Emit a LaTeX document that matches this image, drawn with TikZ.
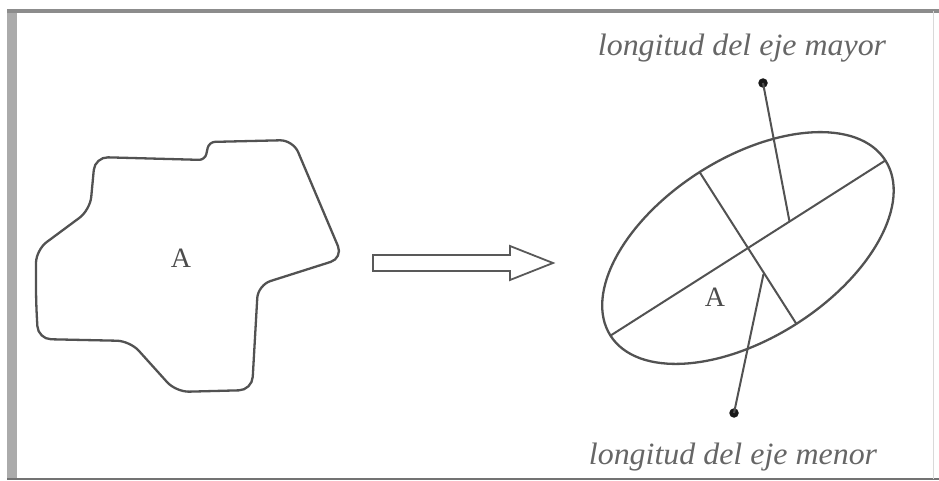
\documentclass[tikz,border=0pt]{standalone}
\usepackage{fontspec}
\setmainfont{Liberation Serif}
\begin{document}
\begin{tikzpicture}[x=1pt,y=-1pt,
  shape line/.style={draw=black!68, line width=2.3pt},
  axis line/.style={draw=black!68, line width=2pt},
  lbl/.style={text=black!60, font=\fontsize{31}{33}\selectfont\itshape, inner sep=0pt, xscale=1.03},
  area/.style={text=black!70, font=\fontsize{28}{30}\selectfont, inner sep=0pt},
  enddot/.style={circle, fill=black!90, inner sep=0pt, minimum size=9.5pt}]
\useasboundingbox (0,0) rectangle (939,481);
% frame
\fill[black!33] (7,13) rectangle (17,479);
\draw[black!45, line width=3.5pt] (7,11) -- (939,11);
\draw[black!55, line width=2pt] (7,479) -- (939,479);
\draw[black!15, line width=1pt] (933,11) -- (933,479);
% irregular area
\draw[shape line, rounded corners=13pt]
  (36,300) -- (38,339) -- (130,341) -- (176,392) -- (252,390) -- (258,285)
  -- (343,258) -- (293,140) [rounded corners=6pt] -- (209,142) -- (205,160) [rounded corners=13pt] -- (95,157)
  -- (90,210) -- (36,250) -- cycle;
\node[area] (A1) at (181,258) {A};
% hollow arrow
\draw[draw=black!65, line width=1.8pt, line join=miter]
  (373,255) -- (510,255) -- (510,246) -- (553,263) -- (510,280) -- (510,271) -- (373,271) -- cycle;
% ellipse
\coordinate (C) at (748,248);
\draw[shape line, rotate around={32.5:(C)}] (C) ellipse [x radius=163, y radius=90];
\coordinate (M1) at (610.5,335.6);
\coordinate (M2) at (885.5,160.4);
\coordinate (N1) at (699.6,172.1);
\coordinate (N2) at (796.4,323.9);
\draw[axis line] (M1) -- (M2);
\draw[axis line] (N1) -- (N2);
\node[area] (A2) at (715,297) {A};
% leaders
\node[enddot] (d1) at (763,83) {};
\node[enddot] (d2) at (734,413) {};
\coordinate (e1) at (789.5,221.5);
\coordinate (e2) at (763.5,274);
\draw[axis line] (d1.center) -- (e1);
\draw[axis line] (d2.center) -- (e2);
\node[lbl] (t1) at (742,48) {longitud del eje mayor};
\node[lbl] (t2) at (733,457) {longitud del eje menor};
\end{tikzpicture}
\end{document}
